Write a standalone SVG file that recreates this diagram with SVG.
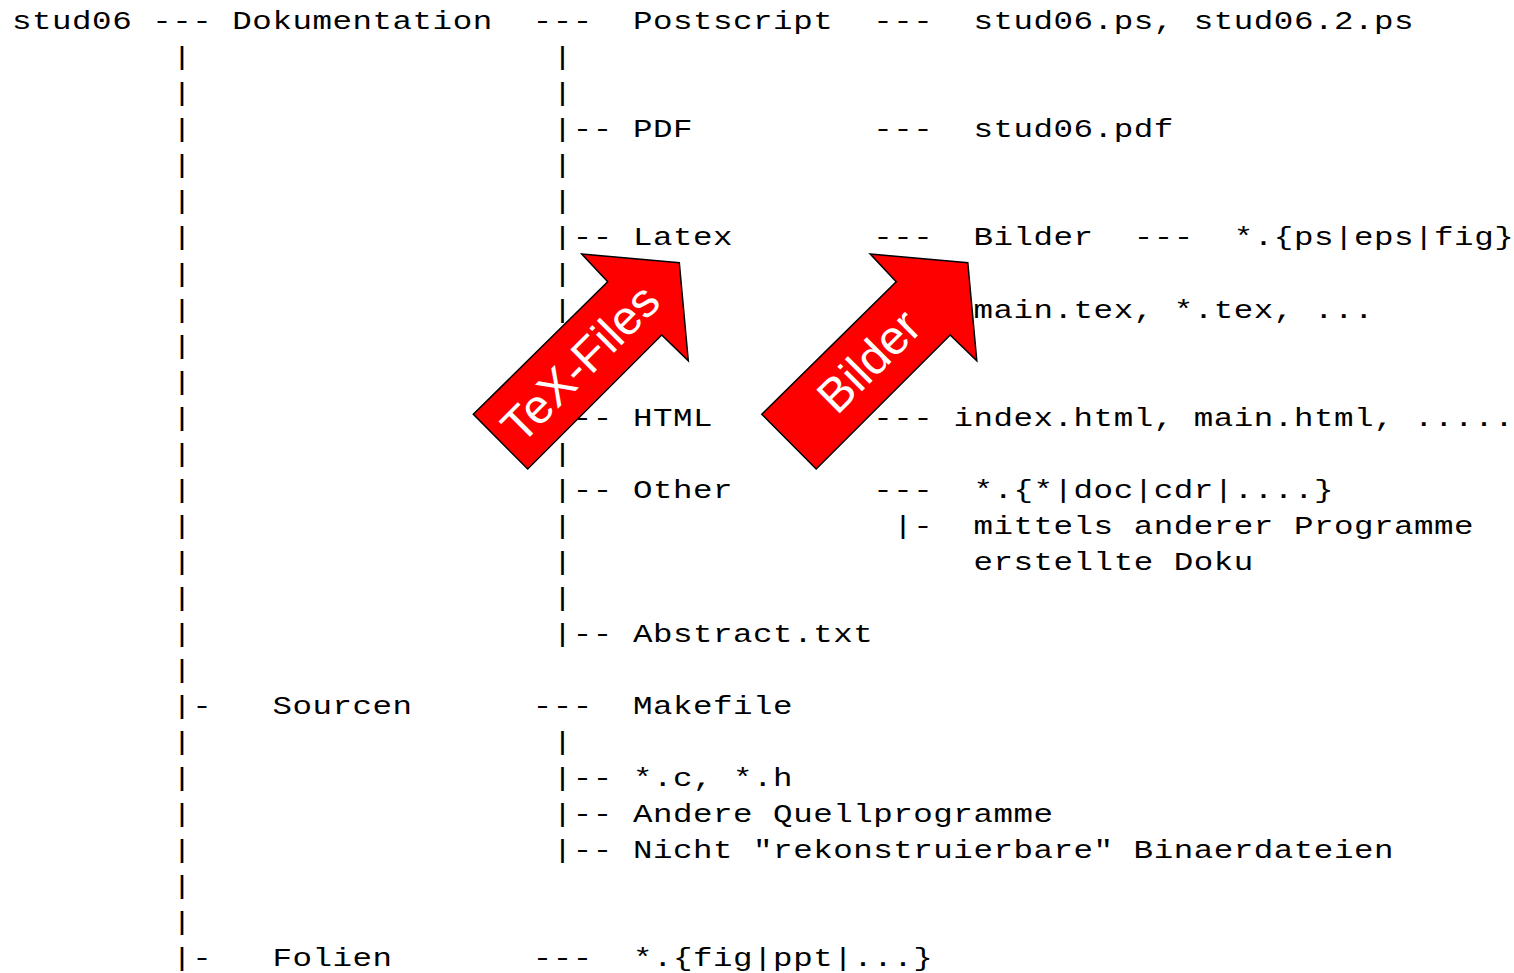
<svg xmlns="http://www.w3.org/2000/svg" width="1514" height="973" viewBox="0 0 1514 973">
<style>
  text.m { font-family: "Liberation Mono", "Courier New", monospace; font-size: 26px; letter-spacing: 0.424px; fill: #000; white-space: pre; }
  .arrow { fill: #ff0000; stroke: #000; stroke-width: 1.5; stroke-linejoin: miter; }
  .atext { font-family: "Liberation Sans", Arial, sans-serif; font-size: 48px; fill: #fff; text-anchor: middle; }
</style>
<rect width="1514" height="973" fill="#fff"/>
<g transform="scale(1.25,1)">
  <g id="connectors">
    <text class="m" x="121.77" y="29.3">---</text>
    <text class="m" x="426.22" y="29.3">---</text>
    <text class="m" x="698.63" y="29.3">---</text>
    <text class="m" x="137.79" y="65.3">|</text>
    <text class="m" x="137.79" y="101.4">|</text>
    <text class="m" x="137.79" y="137.4">|</text>
    <text class="m" x="137.79" y="173.5">|</text>
    <text class="m" x="137.79" y="209.5">|</text>
    <text class="m" x="137.79" y="245.5">|</text>
    <text class="m" x="137.79" y="281.6">|</text>
    <text class="m" x="137.79" y="317.6">|</text>
    <text class="m" x="137.79" y="353.7">|</text>
    <text class="m" x="137.79" y="389.7">|</text>
    <text class="m" x="137.79" y="425.7">|</text>
    <text class="m" x="137.79" y="461.8">|</text>
    <text class="m" x="137.79" y="497.8">|</text>
    <text class="m" x="137.79" y="533.9">|</text>
    <text class="m" x="137.79" y="569.9">|</text>
    <text class="m" x="137.79" y="605.9">|</text>
    <text class="m" x="137.79" y="642.0">|</text>
    <text class="m" x="137.79" y="678.0">|</text>
    <text class="m" x="137.79" y="714.1">|-</text>
    <text class="m" x="137.79" y="750.1">|</text>
    <text class="m" x="137.79" y="786.1">|</text>
    <text class="m" x="137.79" y="822.2">|</text>
    <text class="m" x="137.79" y="858.2">|</text>
    <text class="m" x="137.79" y="894.3">|</text>
    <text class="m" x="137.79" y="930.3">|</text>
    <text class="m" x="137.79" y="966.3">|-</text>
    <text class="m" x="442.25" y="65.3">|</text>
    <text class="m" x="442.25" y="101.4">|</text>
    <text class="m" x="442.25" y="137.4">|--</text>
    <text class="m" x="442.25" y="173.5">|</text>
    <text class="m" x="442.25" y="209.5">|</text>
    <text class="m" x="442.25" y="245.5">|--</text>
    <text class="m" x="442.25" y="281.6">|</text>
    <text class="m" x="442.25" y="317.6">|</text>
    <text class="m" x="442.25" y="353.7">|</text>
    <text class="m" x="442.25" y="389.7">|</text>
    <text class="m" x="442.25" y="425.7">|--</text>
    <text class="m" x="442.25" y="461.8">|</text>
    <text class="m" x="442.25" y="497.8">|--</text>
    <text class="m" x="442.25" y="533.9">|</text>
    <text class="m" x="442.25" y="569.9">|</text>
    <text class="m" x="442.25" y="605.9">|</text>
    <text class="m" x="442.25" y="642.0">|--</text>
    <text class="m" x="426.22" y="714.1">---</text>
    <text class="m" x="442.25" y="750.1">|</text>
    <text class="m" x="442.25" y="786.1">|--</text>
    <text class="m" x="442.25" y="822.2">|--</text>
    <text class="m" x="442.25" y="858.2">|--</text>
    <text class="m" x="426.22" y="966.3">---</text>
    <text class="m" x="698.63" y="137.4">---</text>
    <text class="m" x="698.63" y="245.5">---</text>
    <text class="m" x="906.94" y="245.5">---</text>
    <text class="m" x="698.63" y="425.7">---</text>
    <text class="m" x="698.63" y="497.8">---</text>
    <text class="m" x="714.66" y="533.9">|-</text>
  </g>
  <g id="n-stud06"><text class="m" x="9.6" y="29.3">stud06</text></g>
  <g id="n-dokumentation"><text class="m" x="185.86" y="29.3">Dokumentation</text></g>
  <g id="n-postscript"><text class="m" x="506.34" y="29.3">Postscript</text></g>
  <g id="n-ps-files"><text class="m" x="778.75" y="29.3">stud06.ps, stud06.2.ps</text></g>
  <g id="n-pdf"><text class="m" x="506.34" y="137.4">PDF</text></g>
  <g id="n-pdf-file"><text class="m" x="778.75" y="137.4">stud06.pdf</text></g>
  <g id="n-latex"><text class="m" x="506.34" y="245.5">Latex</text></g>
  <g id="n-bilder"><text class="m" x="778.75" y="245.5">Bilder</text></g>
  <g id="n-bilder-files"><text class="m" x="987.06" y="245.5">*.{ps|eps|fig}</text></g>
  <g id="n-tex-files"><text class="m" x="778.75" y="317.6">main.tex, *.tex, ...</text></g>
  <g id="n-html"><text class="m" x="506.34" y="425.7">HTML</text></g>
  <g id="n-html-files"><text class="m" x="762.73" y="425.7">index.html, main.html, .....</text></g>
  <g id="n-other"><text class="m" x="506.34" y="497.8">Other</text></g>
  <g id="n-other-files"><text class="m" x="778.75" y="497.8">*.{*|doc|cdr|....}</text></g>
  <g id="n-other-note"><text class="m" x="778.75" y="533.9">mittels anderer Programme</text><text class="m" x="778.75" y="569.9">erstellte Doku</text></g>
  <g id="n-abstract"><text class="m" x="506.34" y="642.0">Abstract.txt</text></g>
  <g id="n-sourcen"><text class="m" x="217.91" y="714.1">Sourcen</text></g>
  <g id="n-makefile"><text class="m" x="506.34" y="714.1">Makefile</text></g>
  <g id="n-ch"><text class="m" x="506.34" y="786.1">*.c, *.h</text></g>
  <g id="n-andere"><text class="m" x="506.34" y="822.2">Andere Quellprogramme</text></g>
  <g id="n-nicht"><text class="m" x="506.34" y="858.2">Nicht "rekonstruierbare" Binaerdateien</text></g>
  <g id="n-folien"><text class="m" x="217.91" y="966.3">Folien</text></g>
  <g id="n-folien-files"><text class="m" x="506.34" y="966.3">*.{fig|ppt|...}</text></g>
</g>
<g id="arrow-texfiles">
  <polygon class="arrow" points="581.7,254 679.3,262.7 688.3,360.7 661.7,335 527.7,469 473.3,414.3 607.7,281.7"/>
  <g transform="translate(579.9,362.7) rotate(-45)"><text class="atext" x="0" y="17">TeX-Files</text></g>
</g>
<g id="arrow-bilder">
  <polygon class="arrow" points="870.2,254 967.8,262.7 976.8,360.7 950.2,335 816.2,469 761.8,414.3 896.2,281.7"/>
  <g transform="translate(868.4,360.7) rotate(-45)"><text class="atext" x="0" y="17">Bilder</text></g>
</g>
</svg>
